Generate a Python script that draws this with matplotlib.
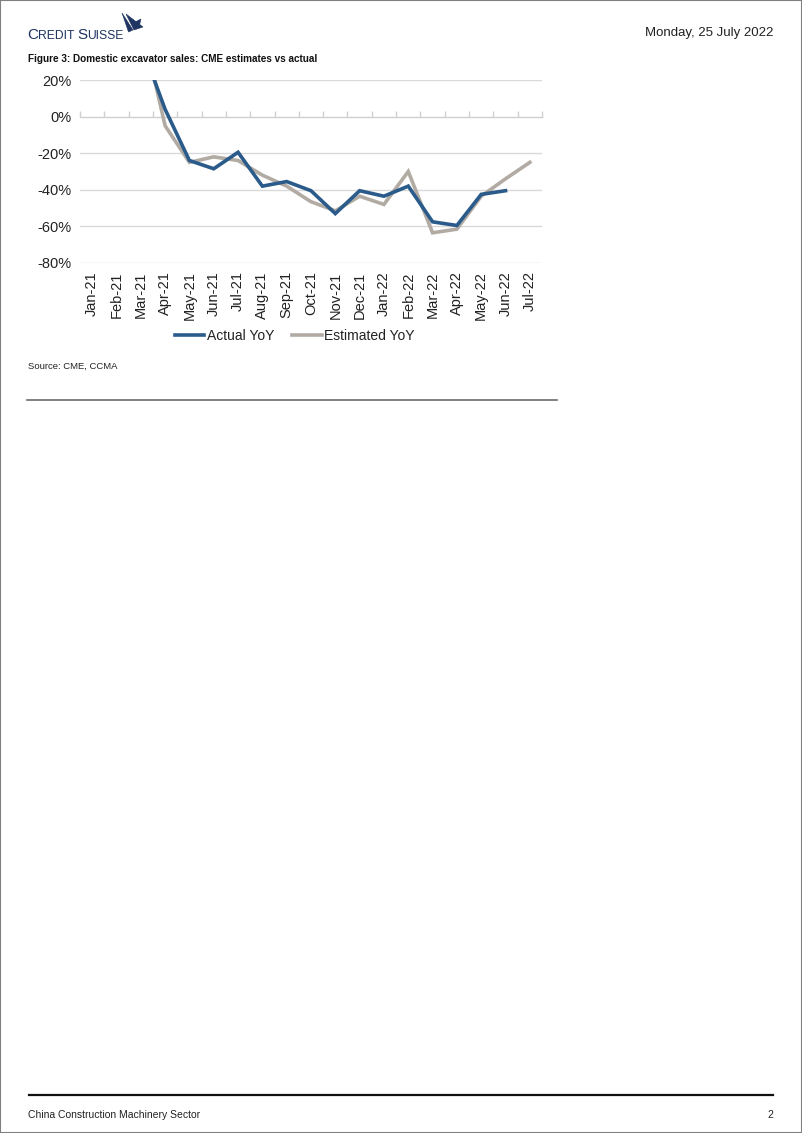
import numpy as np
import matplotlib
matplotlib.use("Agg")
import matplotlib.pyplot as plt
from matplotlib.patches import Polygon, Rectangle
from matplotlib.lines import Line2D
from matplotlib.text import Annotation

# ---- data ----
months = ["Jan-21", "Feb-21", "Mar-21", "Apr-21", "May-21", "Jun-21", "Jul-21",
          "Aug-21", "Sep-21", "Oct-21", "Nov-21", "Dec-21", "Jan-22", "Feb-22",
          "Mar-22", "Apr-22", "May-22", "Jun-22", "Jul-22"]
actual_yoy = [np.nan, np.nan, 40, 4, -24, -28.5, -19.5, -38, -35.5, -40.5, -53,
              -40.5, -43.5, -38, -57.5, -59.5, -42.5, -40.5, np.nan]
estimated_yoy = [np.nan, np.nan, 53, -5, -25, -22, -24, -32, -38, -46.5, -51.5,
                 -43.5, -48, -30, -63.5, -61.5, -43.5, -34, -25]
y_ticks = [20, 0, -20, -40, -60, -80]

W, H = 802, 1133
plt.rcParams['font.family'] = ['Liberation Sans', 'DejaVu Sans']
fig = plt.figure(figsize=(W / 100, H / 100), dpi=100)

def fx(px):
    return px / W

def fy(py):
    return 1 - py / H

# page border
fig.add_artist(Rectangle((0, 0), 1, 1, transform=fig.transFigure, fill=False,
                         edgecolor="#7f7f7f", linewidth=1.5))

# ---- logo ----
navy = "#1f3461"
t1 = fig.text(fx(27), fy(39), "C", fontsize=11.0, family="Liberation Sans",
              color=navy, va="baseline", ha="left")
parts = [("REDIT ", 8.7), ("S", 11.0), ("UISSE", 8.7)]
prev = t1
for txt, fs in parts:
    a = Annotation(txt, xy=(1, fy(39)), xycoords=(prev, fig.transFigure),
                   fontsize=fs, family="Liberation Sans", color=navy,
                   va="baseline", ha="left", annotation_clip=False)
    fig.add_artist(a)
    prev = a
# sail icon
sail1 = [(fx(122), fy(13)), (fx(128.5), fy(32)), (fx(133), fy(30))]
sail2 = [(fx(126), fy(14)), (fx(134), fy(30)), (fx(143), fy(27))]
sail3 = [(fx(133), fy(23)), (fx(141), fy(19)), (fx(139), fy(27))]
for s in (sail1, sail2, sail3):
    fig.add_artist(Polygon(s, closed=True, transform=fig.transFigure,
                           facecolor=navy, edgecolor=navy, linewidth=0.4))

fig.text(fx(773), fy(33), "Monday, 25 July 2022", fontsize=9.5, color="#222222",
         ha="right", va="center")
fig.text(fx(28), fy(59), "Figure 3: Domestic excavator sales: CME estimates vs actual",
         fontsize=7.2, fontweight="bold", color="#111111", ha="left", va="center")

# ---- chart ----
ax = fig.add_axes([fx(80), fy(263), fx(542) - fx(80), (263 - 80) / H])
x = np.arange(len(months))
blue = "#2a5b8a"
grey = "#b2aba4"
ax.plot(x, estimated_yoy, color=grey, linewidth=2.6, solid_joinstyle="miter",
        label="Estimated YoY", zorder=3)
ax.plot(x, actual_yoy, color=blue, linewidth=2.6, solid_joinstyle="miter",
        label="Actual YoY", zorder=4)
ax.set_xlim(-0.5, len(months) - 0.5)
ax.set_ylim(-80, 20)
ax.set_yticks(y_ticks)
ax.set_yticklabels([f"{v}%" for v in y_ticks], fontsize=10.5, color="#222222")
ax.set_xticks(x)
ax.set_xticklabels(months, rotation=90, fontsize=10.5, color="#222222")
ax.tick_params(axis="both", length=0, pad=6)
for sp in ax.spines.values():
    sp.set_visible(False)
for v in y_ticks:
    if v != 0:
        ax.axhline(v, color="#d9d9d9", linewidth=1.0, zorder=1)

sec = ax.secondary_xaxis(0.8)
sec.set_xticks(np.arange(len(months) + 1) - 0.5)
sec.set_xticklabels([])
sec.tick_params(axis="x", direction="out", length=4, color="#d0d0d0", width=1)
for k, sp in sec.spines.items():
    sp.set_visible(k == "bottom")
sec.spines["bottom"].set_color("#d0d0d0")
sec.spines["bottom"].set_linewidth(1.0)

handles = [Line2D([], [], color=blue, linewidth=2.6),
           Line2D([], [], color=grey, linewidth=2.6)]
fig.legend(handles, ["Actual YoY", "Estimated YoY"], loc="center",
           bbox_to_anchor=(fx(295), fy(336)), ncol=2, frameon=False,
           fontsize=10, handlelength=2.1, handletextpad=0.2, columnspacing=1.3,
           labelcolor="#222222")

fig.text(fx(28), fy(366), "Source: CME, CCMA", fontsize=6.8, color="#222222",
         ha="left", va="center")
fig.add_artist(Line2D([fx(27), fx(557)], [fy(400), fy(400)], transform=fig.transFigure,
                      color="#6b6b6b", linewidth=1.2))

# footer
fig.add_artist(Line2D([fx(29), fx(773)], [fy(1095), fy(1095)], transform=fig.transFigure,
                      color="#111111", linewidth=1.6))
fig.text(fx(28), fy(1115), "China Construction Machinery Sector", fontsize=7.5,
         color="#222222", ha="left", va="center")
fig.text(fx(773), fy(1115), "2", fontsize=7.5, color="#222222", ha="right", va="center")

fig.savefig("out.png", dpi=100)
